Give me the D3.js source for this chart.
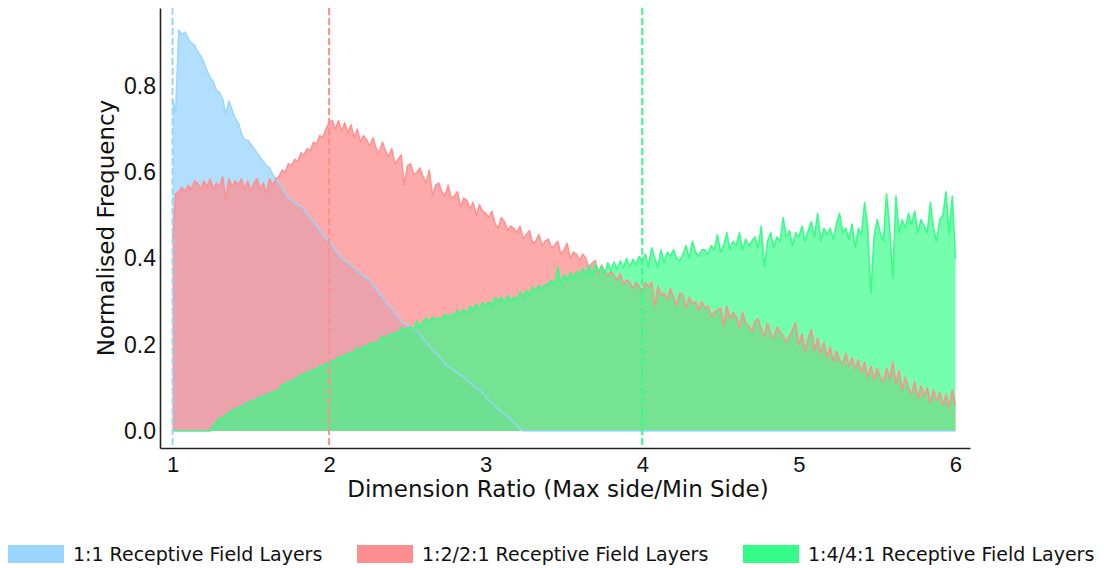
<!DOCTYPE html>
<html>
<head>
<meta charset="utf-8">
<script src="https://cdn.jsdelivr.net/npm/d3@7"></script>
<style>
    body { margin: 0; background: #fff; }
    svg { display: block; font-family: "DejaVu Sans", sans-serif; }
</style>
</head>
<body>
<div id="chart"></div>
<script>
// Dimension ratio histograms, normalised, bins of 0.02 starting at 1.0
const binStart = 1;
const binWidth = 0.02;

// 1:1 receptive field layers
const ratio1to1 = [
    0.77, 0.74, 0.93, 0.92, 0.925, 0.91, 0.90, 0.895, 0.88, 0.87,
    0.855, 0.835, 0.82, 0.81, 0.79, 0.785, 0.77, 0.735, 0.765, 0.745,
    0.725, 0.715, 0.69, 0.675, 0.675, 0.665, 0.655, 0.645, 0.635, 0.625,
    0.615, 0.61, 0.595, 0.585, 0.575, 0.565, 0.55, 0.54, 0.535, 0.53,
    0.525, 0.52, 0.515, 0.50, 0.495, 0.485, 0.475, 0.465, 0.455, 0.445,
    0.44, 0.43, 0.42, 0.41, 0.40, 0.395, 0.39, 0.385, 0.378, 0.372,
    0.365, 0.36, 0.355, 0.35, 0.34, 0.33, 0.32, 0.31, 0.30, 0.29,
    0.285, 0.275, 0.265, 0.255, 0.25, 0.245, 0.24, 0.235, 0.232, 0.225,
    0.215, 0.205, 0.195, 0.19, 0.18, 0.175, 0.165, 0.155, 0.15, 0.145,
    0.14, 0.135, 0.13, 0.125, 0.118, 0.112, 0.105, 0.10, 0.095, 0.088,
    0.08, 0.072, 0.065, 0.058, 0.052, 0.045, 0.04, 0.034, 0.028, 0.02,
    0.012, 0.005, 0, 0, 0, 0, 0, 0, 0, 0,
    0, 0, 0, 0, 0, 0, 0, 0, 0, 0,
    0, 0, 0, 0, 0, 0, 0, 0, 0, 0,
    0, 0, 0, 0, 0, 0, 0, 0, 0, 0,
    0, 0, 0, 0, 0, 0, 0, 0, 0, 0,
    0, 0, 0, 0, 0, 0, 0, 0, 0, 0,
    0, 0, 0, 0, 0, 0, 0, 0, 0, 0,
    0, 0, 0, 0, 0, 0, 0, 0, 0, 0,
    0, 0, 0, 0, 0, 0, 0, 0, 0, 0,
    0, 0, 0, 0, 0, 0, 0, 0, 0, 0,
    0, 0, 0, 0, 0, 0, 0, 0, 0, 0,
    0, 0, 0, 0, 0, 0, 0, 0, 0, 0,
    0, 0, 0, 0, 0, 0, 0, 0, 0, 0,
    0, 0, 0, 0, 0, 0, 0, 0, 0, 0,
    0
];

// 1:2 / 2:1 receptive field layers
const ratio1to2 = [
    0.44, 0.55, 0.555, 0.565, 0.555, 0.57, 0.56, 0.58, 0.575, 0.56,
    0.58, 0.565, 0.585, 0.56, 0.575, 0.565, 0.59, 0.535, 0.585, 0.565,
    0.58, 0.57, 0.585, 0.56, 0.58, 0.555, 0.575, 0.585, 0.56, 0.575,
    0.55, 0.585, 0.57, 0.585, 0.59, 0.605, 0.60, 0.62, 0.615, 0.63,
    0.625, 0.645, 0.64, 0.655, 0.65, 0.67, 0.665, 0.685, 0.68, 0.70,
    0.715, 0.72, 0.70, 0.72, 0.695, 0.715, 0.69, 0.71, 0.68, 0.70,
    0.67, 0.685, 0.675, 0.66, 0.68, 0.655, 0.645, 0.67, 0.65, 0.635,
    0.655, 0.62, 0.63, 0.64, 0.57, 0.615, 0.62, 0.595, 0.60, 0.61,
    0.59, 0.575, 0.605, 0.545, 0.57, 0.575, 0.555, 0.545, 0.57, 0.54,
    0.545, 0.555, 0.52, 0.54, 0.535, 0.515, 0.53, 0.50, 0.525, 0.51,
    0.505, 0.495, 0.51, 0.48, 0.47, 0.495, 0.485, 0.465, 0.475, 0.47,
    0.46, 0.475, 0.445, 0.455, 0.465, 0.435, 0.44, 0.455, 0.43, 0.44,
    0.445, 0.425, 0.43, 0.44, 0.41, 0.42, 0.435, 0.40, 0.415, 0.41,
    0.395, 0.41, 0.40, 0.375, 0.39, 0.395, 0.365, 0.385, 0.37, 0.36,
    0.37, 0.36, 0.35, 0.365, 0.34, 0.35, 0.345, 0.33, 0.345, 0.335,
    0.32, 0.345, 0.335, 0.345, 0.29, 0.335, 0.315, 0.32, 0.305, 0.33,
    0.31, 0.29, 0.32, 0.315, 0.285, 0.31, 0.295, 0.30, 0.28, 0.30,
    0.285, 0.29, 0.265, 0.275, 0.28, 0.285, 0.245, 0.29, 0.26, 0.275,
    0.265, 0.24, 0.275, 0.25, 0.245, 0.23, 0.255, 0.26, 0.235, 0.22,
    0.25, 0.225, 0.215, 0.24, 0.23, 0.22, 0.205, 0.22, 0.235, 0.25,
    0.20, 0.225, 0.185, 0.215, 0.235, 0.185, 0.215, 0.18, 0.205, 0.17,
    0.195, 0.16, 0.185, 0.165, 0.155, 0.18, 0.15, 0.17, 0.145, 0.165,
    0.135, 0.16, 0.125, 0.15, 0.12, 0.145, 0.125, 0.115, 0.145, 0.12,
    0.16, 0.11, 0.14, 0.095, 0.125, 0.10, 0.085, 0.115, 0.075, 0.105,
    0.08, 0.10, 0.065, 0.095, 0.07, 0.09, 0.06, 0.085, 0.055, 0.095,
    0.06
];

// 1:4 / 4:1 receptive field layers
const ratio1to4 = [
    0, 0, 0, 0, 0, 0, 0, 0, 0, 0,
    0, 0, 0, 0.012, 0.02, 0.03, 0.028, 0.038, 0.04, 0.048,
    0.05, 0.055, 0.056, 0.062, 0.063, 0.07, 0.068, 0.077, 0.076, 0.083,
    0.08, 0.088, 0.087, 0.093, 0.095, 0.108, 0.107, 0.115, 0.113, 0.122,
    0.123, 0.131, 0.128, 0.138, 0.135, 0.143, 0.142, 0.151, 0.148, 0.158,
    0.158, 0.163, 0.162, 0.173, 0.166, 0.178, 0.176, 0.183, 0.182, 0.193,
    0.186, 0.198, 0.19, 0.205, 0.20, 0.205, 0.208, 0.22, 0.21, 0.225,
    0.222, 0.228, 0.225, 0.24, 0.235, 0.237, 0.242, 0.235, 0.255, 0.24,
    0.255, 0.262, 0.25, 0.265, 0.258, 0.262, 0.26, 0.272, 0.262, 0.27,
    0.268, 0.28, 0.27, 0.282, 0.273, 0.29, 0.28, 0.295, 0.28, 0.298,
    0.29, 0.30, 0.292, 0.31, 0.30, 0.31, 0.295, 0.315, 0.30, 0.31,
    0.305, 0.322, 0.31, 0.326, 0.315, 0.335, 0.322, 0.338, 0.328, 0.34,
    0.34, 0.35, 0.338, 0.38, 0.342, 0.362, 0.35, 0.368, 0.352, 0.37,
    0.36, 0.378, 0.362, 0.385, 0.36, 0.388, 0.37, 0.382, 0.365, 0.39,
    0.372, 0.392, 0.375, 0.395, 0.378, 0.40, 0.38, 0.398, 0.385, 0.405,
    0.395, 0.41, 0.38, 0.425, 0.40, 0.38, 0.42, 0.39, 0.415, 0.405,
    0.42, 0.40, 0.395, 0.41, 0.43, 0.40, 0.44, 0.415, 0.405, 0.42,
    0.42, 0.41, 0.43, 0.42, 0.455, 0.415, 0.43, 0.46, 0.42, 0.44,
    0.43, 0.46, 0.42, 0.445, 0.43, 0.44, 0.45, 0.425, 0.475, 0.38,
    0.44, 0.46, 0.425, 0.45, 0.44, 0.495, 0.45, 0.465, 0.43, 0.46,
    0.45, 0.475, 0.44, 0.465, 0.485, 0.45, 0.505, 0.44, 0.47, 0.455,
    0.47, 0.445, 0.48, 0.505, 0.46, 0.47, 0.445, 0.48, 0.425, 0.47,
    0.455, 0.53, 0.47, 0.32, 0.45, 0.49, 0.46, 0.44, 0.55, 0.47,
    0.355, 0.545, 0.46, 0.49, 0.47, 0.505, 0.48, 0.51, 0.46, 0.49,
    0.475, 0.46, 0.53, 0.47, 0.44, 0.49, 0.50, 0.555, 0.46, 0.545,
    0.40
];

const seriesNames = [
    '1:1 Receptive Field Layers',
    '1:2/2:1 Receptive Field Layers',
    '1:4/4:1 Receptive Field Layers'
];
const seriesColors = ['#9ad5fd', '#ff8e8e', '#33fd86'];
const fillOpacity = [0.76, 0.75, 0.68];
const seriesValues = [ratio1to1, ratio1to2, ratio1to4];
// mean ratio marker for each layer type
const markerRatios = [1, 2, 4];

const xTicks = [1, 2, 3, 4, 5, 6];
const yTicks = [0, 0.2, 0.4, 0.6, 0.8];

// Figure size and plot box
const width = 1104;
const height = 568;
const plot = { left: 160, right: 970, top: 8, bottom: 448 };

const svg = d3.select('#chart').append('svg')
    .attr('width', width)
    .attr('height', height);

// Scales
const xScale = d3.scaleLinear()
    .domain([0.92, 6.093])
    .range([plot.left, plot.right]);

const yScale = d3.scaleLinear()
    .domain([-0.0394, 0.981])
    .range([plot.bottom, plot.top]);

// Build point lists per series
const seriesData = seriesValues.map(values =>
    values.map((v, i) => ({ ratio: binStart + i * binWidth, value: v }))
);

const area = d3.area()
    .x(d => xScale(d.ratio))
    .y0(yScale(0))
    .y1(d => yScale(d.value));

const line = d3.line()
    .x(d => xScale(d.ratio))
    .y(d => yScale(d.value));

// Filled areas first
seriesData.forEach((data, k) => {
    svg.append('path')
        .datum(data)
        .attr('d', area)
        .attr('fill', seriesColors[k])
        .attr('fill-opacity', fillOpacity[k]);
});

// Outlines on top
seriesData.forEach((data, k) => {
    svg.append('path')
        .datum(data)
        .attr('d', line)
        .attr('fill', 'none')
        .attr('stroke', seriesColors[k])
        .attr('stroke-opacity', 0.95)
        .attr('stroke-width', 1.6)
        .attr('stroke-linejoin', 'round');
});

// Dashed markers
markerRatios.forEach((r, k) => {
    svg.append('line')
        .attr('x1', xScale(r))
        .attr('x2', xScale(r))
        .attr('y1', plot.top)
        .attr('y2', plot.bottom)
        .attr('stroke', seriesColors[k])
        .attr('stroke-width', 2)
        .attr('stroke-dasharray', '7,3');
});

// Axes
const xAxis = d3.axisBottom(xScale)
    .tickValues(xTicks)
    .tickFormat(d3.format('d'))
    .tickSize(0)
    .tickPadding(8);

svg.append('g')
    .attr('transform', `translate(0, ${plot.bottom})`)
    .call(xAxis)
    .call(g => g.select('.domain').attr('stroke', '#222').attr('stroke-width', 1.6))
    .call(g => g.selectAll('text').style('font-size', '22px').attr('fill', '#111'));

const yAxis = d3.axisLeft(yScale)
    .tickValues(yTicks)
    .tickFormat(d3.format('.1f'))
    .tickSize(0)
    .tickPadding(4);

svg.append('g')
    .attr('transform', `translate(${plot.left}, 0)`)
    .call(yAxis)
    .call(g => g.select('.domain').attr('stroke', '#222').attr('stroke-width', 1.6))
    .call(g => g.selectAll('text').style('font-size', '23px').attr('fill', '#111'));

// Axis labels
svg.append('text')
    .attr('x', 558)
    .attr('y', 497)
    .attr('text-anchor', 'middle')
    .style('font-size', '23px')
    .style('fill', '#111')
    .text('Dimension Ratio (Max side/Min Side)');

svg.append('text')
    .attr('transform', `translate(114, ${(plot.top + plot.bottom) / 2}) rotate(-90)`)
    .attr('text-anchor', 'middle')
    .style('font-size', '23px')
    .style('fill', '#111')
    .text('Normalised Frequency');

// Legend
const legendX = [8, 357, 743];
const legend = svg.append('g');

seriesNames.forEach((name, k) => {
    const item = legend.append('g')
        .attr('transform', `translate(${legendX[k]}, 545)`);

    item.append('rect')
        .attr('width', 56)
        .attr('height', 18)
        .attr('fill', seriesColors[k]);

    item.append('text')
        .attr('x', 65)
        .attr('y', 9)
        .attr('dy', '0.35em')
        .style('font-size', '19px')
        .style('fill', '#111')
        .text(name);
});
</script>
</body>
</html>
